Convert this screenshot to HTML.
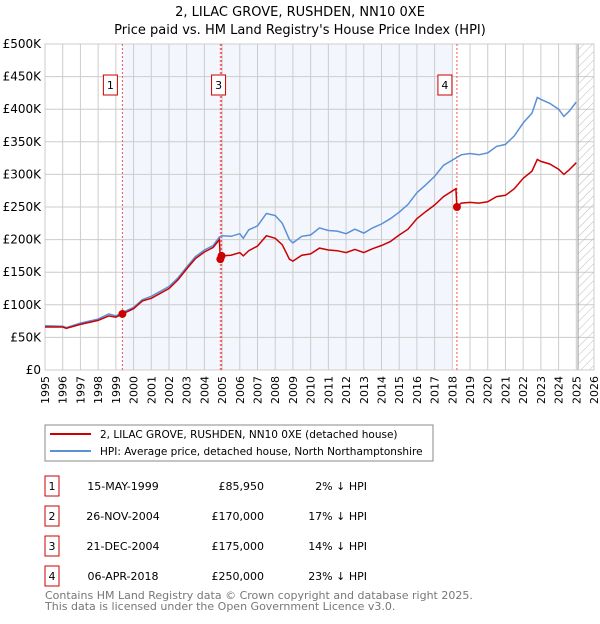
<!DOCTYPE html>
<html><head><meta charset="utf-8"><style>
body{margin:0;background:#fff;font-family:"DejaVu Sans","Liberation Sans",sans-serif;}
svg text{font-family:"DejaVu Sans","Liberation Sans",sans-serif;}
</style></head><body>
<svg id="c" width="600" height="620" xmlns="http://www.w3.org/2000/svg">
<defs><pattern id="h" width="6" height="6" patternUnits="userSpaceOnUse" patternTransform="rotate(45)"><line x1="0" y1="0" x2="0" y2="6" stroke="#bbb" stroke-width="1"/></pattern></defs>
<text x="300" y="16" text-anchor="middle" font-size="13" fill="#000">2, LILAC GROVE, RUSHDEN, NN10 0XE</text>
<text x="300" y="34" text-anchor="middle" font-size="13" fill="#000">Price paid vs. HM Land Registry's House Price Index (HPI)</text>
<g id="plot"></g>
<rect x="45" y="425" width="388" height="36" fill="#fff" stroke="#888"/>
<line x1="50" y1="434" x2="91" y2="434" stroke="#cc0000" stroke-width="2"/>
<text x="100" y="438" font-size="10.5">2, LILAC GROVE, RUSHDEN, NN10 0XE (detached house)</text>
<line x1="50" y1="451" x2="91" y2="451" stroke="#5b8fd6" stroke-width="2"/>
<text x="100" y="455" font-size="10.5">HPI: Average price, detached house, North Northamptonshire</text>
<g id="tbl" font-size="11"></g>
<text x="45" y="599" font-size="11" fill="#777">Contains HM Land Registry data © Crown copyright and database right 2025.</text>
<text x="45" y="610" font-size="11" fill="#777">This data is licensed under the Open Government Licence v3.0.</text>
</svg>
<script>
const hpiDates=[1995,1996,1996.2,1997,1998,1998.6,1999,1999.37,2000,2000.5,2001,2002,2002.5,2003,2003.5,2004,2004.5,2004.85,2005,2005.5,2006,2006.2,2006.5,2007,2007.5,2008,2008.4,2008.8,2009,2009.5,2010,2010.5,2011,2011.5,2012,2012.5,2013,2013.5,2014,2014.5,2015,2015.5,2016,2016.5,2017,2017.5,2018,2018.5,2019,2019.5,2020,2020.5,2021,2021.5,2022,2022.5,2022.8,2023,2023.5,2024,2024.3,2024.6,2025];
const hpiValues=[68,67,65,72,78,86,83,88,96,108,113,128,141,158,174,184,191,204,206,205,209,202,215,221,240,237,225,200,195,205,207,218,214,213,209,216,210,218,224,232,242,254,272,284,297,314,322,330,332,330,333,343,346,359,379,394,418,415,409,400,389,397,411];
const propDates=[1995,1996,1996.2,1997,1998,1998.6,1999,1999.37,2000,2000.5,2001,2002,2002.5,2003,2003.5,2004,2004.5,2004.85,2004.9,2004.97,2005.5,2006,2006.2,2006.5,2007,2007.5,2008,2008.4,2008.8,2009,2009.5,2010,2010.5,2011,2011.5,2012,2012.5,2013,2013.5,2014,2014.5,2015,2015.5,2016,2016.5,2017,2017.5,2018.2,2018.26,2018.5,2019,2019.5,2020,2020.5,2021,2021.5,2022,2022.5,2022.8,2023,2023.5,2024,2024.3,2024.6,2025];
const propValues=[66,66,64,70,76,83,81,86,94,106,110,125,138,155,171,181,188,200,170,175,176,180,175,183,190,206,202,192,170,167,176,178,187,184,183,180,185,180,186,191,197,207,216,232,243,253,266,278,250,256,257,256,258,266,268,278,294,305,323,320,316,308,300,307,318];
const saleIds=["1","2","3","4"];
const saleDates=[1999.37,2004.9,2004.97,2018.26];
const salePrices=[85.95,170,175,250];
const saleDateLabels=["15-MAY-1999","26-NOV-2004","21-DEC-2004","06-APR-2018"];
const salePriceLabels=["£85,950","£170,000","£175,000","£250,000"];
const salePctLabels=["2% ↓ HPI","17% ↓ HPI","14% ↓ HPI","23% ↓ HPI"];
const yTicks=[0,50,100,150,200,250,300,350,400,450,500];
const yTickLabels=["£0","£50K","£100K","£150K","£200K","£250K","£300K","£350K","£400K","£450K","£500K"];
const xTicks=[1995,1996,1997,1998,1999,2000,2001,2002,2003,2004,2005,2006,2007,2008,2009,2010,2011,2012,2013,2014,2015,2016,2017,2018,2019,2020,2021,2022,2023,2024,2025,2026];

const L=45,R=594,T=44,B=370;
const xs=y=>L+(y-1995)/(2026-1995)*(R-L);
const ys=v=>B-v/500*(B-T);
const NS="http://www.w3.org/2000/svg";
const g=document.getElementById('plot');
function mk(tag,attrs,parent){const e=document.createElementNS(NS,tag);for(const k in attrs)e.setAttribute(k,attrs[k]);(parent||g).appendChild(e);return e;}

let e=mk('rect',{x:xs(saleDates[0]),y:T,width:xs(2018.0)-xs(saleDates[0]),height:B-T,fill:'#eef3fc',opacity:0.7});


xTicks.forEach(t=>{
  const l=mk('line',{x1:xs(t),x2:xs(t),y1:T,y2:B,stroke:'#ccc','stroke-width':1});
  
  
  const x=xs(t);
  const tx=mk('text',{x:x+4,y:B+6,'font-size':11,'text-anchor':'end',transform:`rotate(-90 ${x+4} ${B+6})`});
  tx.textContent=t;
  
  
});
yTicks.forEach((t,i)=>{
  const l=mk('line',{x1:L,x2:R,y1:ys(t),y2:ys(t),stroke:'#ccc','stroke-width':1});
  
  
  const tx=mk('text',{x:L-4,y:ys(t)+4,'font-size':12,'text-anchor':'end'});
  tx.textContent=yTickLabels[i];
  
  
});
e=mk('rect',{x:xs(2025.1),y:T,width:R-xs(2025.1),height:B-T,fill:'url(#h)',stroke:'#999'});


e=mk('rect',{x:L,y:T,width:R-L,height:B-T,fill:'none',stroke:'#ccc'});


saleDates.forEach((d,i)=>{
  const l=mk('line',{x1:xs(d),x2:xs(d),y1:T,y2:B,stroke:'#e55','stroke-width':1,'stroke-dasharray':'2,2'});
  
  
});
function path(ds,vs,col,name){
  const p=mk('path',{d:ds.map((d,i)=>(i?'L':'M')+xs(d).toFixed(1)+','+ys(vs[i]).toFixed(1)).join(''),fill:'none',stroke:col,'stroke-width':1.5});
  
  
}
path(hpiDates,hpiValues,'#5b8fd6','hpi-line');
path(propDates,propValues,'#cc0000','property-line');
saleDates.forEach((d,i)=>{
  const c=mk('circle',{cx:xs(d),cy:ys(salePrices[i]),r:4,fill:'#cc0000'});
  
  
  if(i===1) return;
  const bx=xs(d)-(i===2?10:19);
  const r=mk('rect',{x:bx,y:75,width:14,height:20,fill:'#fff',stroke:'#cc0000'});
  
  
  const t=mk('text',{x:bx+7,y:89,'font-size':11,'text-anchor':'middle'});
  t.textContent=saleIds[i];
  
  
});
const tb=document.getElementById('tbl');
saleIds.forEach((id,i)=>{
  const y=476+i*30;
  let r=mk('rect',{x:45,y:y,width:14,height:20,fill:'#fff',stroke:'#cc0000'},tb);
  
  
  const cells=[[52,'middle',id],[123,'middle',saleDateLabels[i]],[264,'end',salePriceLabels[i]],[367,'end',salePctLabels[i]]];
  cells.forEach(c=>{
    const t=mk('text',{x:c[0],y:y+14,'text-anchor':c[1]},tb);
    t.textContent=c[2];
    
    
  });
});
</script>
</body></html>
